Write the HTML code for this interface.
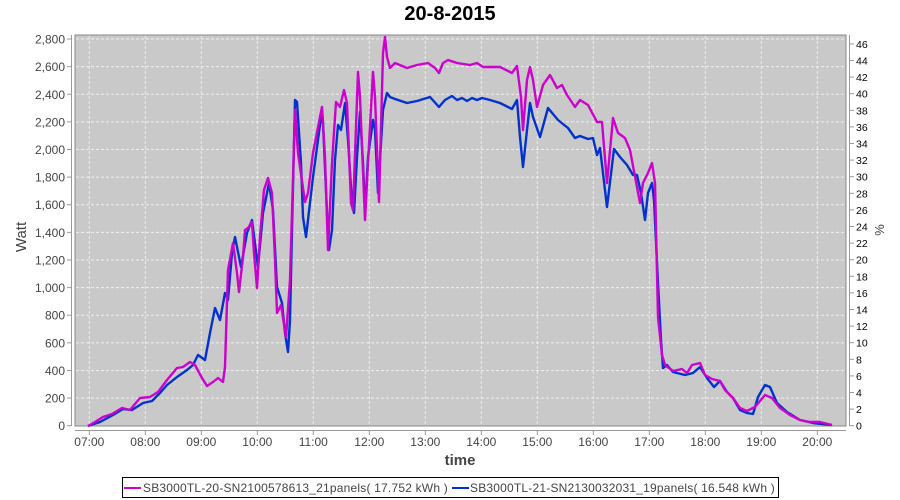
<!DOCTYPE html>
<html><head><meta charset="utf-8"><style>
html,body{margin:0;padding:0;background:#fff;}
svg{display:block;font-family:"Liberation Sans",sans-serif;}
</style></head><body>
<svg width="900" height="500" viewBox="0 0 900 500" xmlns="http://www.w3.org/2000/svg">
<rect width="900" height="500" fill="#fff"/>
<text x="450" y="20" text-anchor="middle" font-size="20" font-weight="bold" fill="#000">20-8-2015</text>
<rect x="75" y="35" width="771" height="391" fill="#c9c9c9" stroke="#888" stroke-width="1"/>
<g stroke="#eee" stroke-width="1" stroke-dasharray="3,2" id="grid"></g>
<g id="ax" font-size="12" fill="#444"></g>
<line x1="71.5" y1="35" x2="71.5" y2="426" stroke="#999"/>
<line x1="849.5" y1="35" x2="849.5" y2="426" stroke="#999"/>
<line x1="75" y1="430.5" x2="846" y2="430.5" stroke="#999"/>
<text transform="translate(26,237) rotate(-90)" text-anchor="middle" font-size="15" fill="#444">Watt</text>
<text transform="translate(884,230) rotate(-90)" text-anchor="middle" font-size="13" fill="#444">%</text>
<text x="460" y="465" text-anchor="middle" font-size="15" font-weight="bold" fill="#444">time</text>
<polyline fill="none" stroke="#0033cc" stroke-width="2.4" stroke-linejoin="round" points="88,426 100,422 113,415 123,409 132,410 143,403 152,401 160,393 167,385 177,377 187,370 193,365 198,355 205,360 210,333 215,308 220,320 225,293 228,300 232,253 235,237 241,267 247,233 252,220 258,267 263,213 269,183 273,210 277,287 282,303 285,333 288,352 290,320 292,230 295,100 297,102 301,163 303,217 306,237 308,220 313,177 318,140 322,110 323,123 327,213 329,250 332,230 335,160 338,125 341,130 345,103 348,140 352,203 354,213 357,157 360,112 363,163 365,212 368,157 373,120 375,130 378,193 383,110 387,93 390,97 395,99 407,103 417,101 430,97 439,107 445,100 452,96 457,100 462,98 467,101 472,98 477,100 482,98 490,100 500,103 512,109 517,100 520,137 523,167 527,130 530,103 533,117 540,137 548,108 558,120 568,128 575,138 580,136 588,139 593,138 597,155 600,148 607,207 614,149 620,157 627,165 633,175 637,175 641,193 645,220 648,193 652,183 654,200 658,283 661,340 663,368 667,365 673,372 685,375 693,373 700,367 707,378 714,387 720,381 727,392 733,398 740,410 747,413 753,414 758,397 765,385 770,387 777,403 787,412 800,420 813,423 832,425"/>
<polyline fill="none" stroke="#cc00cc" stroke-width="2.4" stroke-linejoin="round" points="88,426 95,422 103,417 112,414 122,408 130,410 140,398 150,397 158,392 167,380 177,368 183,367 190,362 195,365 202,378 207,386 213,382 218,378 223,382 225,367 228,270 233,243 237,273 239,292 243,257 245,230 248,228 252,222 254,253 257,288 260,237 264,190 268,178 272,193 275,260 277,313 281,305 286,337 290,280 295,110 298,153 305,202 308,193 313,153 320,117 322,107 325,157 328,250 332,163 336,102 340,107 344,90 347,103 351,203 353,210 358,72 360,97 365,220 368,163 373,72 375,97 379,202 383,53 385,37 387,57 390,68 395,63 407,68 417,65 428,63 435,68 439,73 443,63 448,60 457,63 470,65 477,63 483,67 493,67 500,67 512,73 517,66 521,97 523,130 527,80 530,67 533,80 537,107 543,85 550,75 557,88 562,85 567,95 575,107 580,100 588,105 597,122 602,122 607,183 613,118 618,133 625,138 630,150 640,203 643,183 648,173 652,163 655,183 658,317 662,355 665,365 673,371 682,369 687,373 692,365 700,363 705,375 712,379 720,381 725,390 733,398 740,408 747,411 755,407 765,395 772,398 780,408 790,415 800,420 810,422 820,422 832,425"/>
<rect x="122.5" y="477.5" width="656" height="20" fill="#fff" stroke="#000"/>
<line x1="124" y1="488" x2="141" y2="488" stroke="#cc00cc" stroke-width="2"/>
<text x="143" y="492" font-size="12" fill="#444" letter-spacing="0.2">SB3000TL-20-SN2100578613_21panels( 17.752 kWh )</text>
<line x1="452" y1="488" x2="469" y2="488" stroke="#0033cc" stroke-width="2"/>
<text x="470" y="492" font-size="12" fill="#444" letter-spacing="0.2">SB3000TL-21-SN2130032031_19panels( 16.548 kWh )</text>
<script>
var ns="http://www.w3.org/2000/svg",g=document.getElementById('grid'),ax=document.getElementById('ax');
function el(p,t,a,txt){var e=document.createElementNS(ns,t);for(var k in a)e.setAttribute(k,a[k]);if(txt)e.textContent=txt;p.appendChild(e);}
for(var v=0;v<=2800;v+=200){var y=425.7-v*0.1381;
 if(v>0)el(g,'line',{x1:76,x2:845,y1:y,y2:y});
 el(ax,'line',{x1:67,x2:71,y1:y,y2:y,stroke:'#999'});
 el(ax,'text',{x:65,y:y+4.5,'text-anchor':'end'},v>=1000?(Math.floor(v/1000)+','+String(v%1000).padStart(3,'0')):String(v));}
for(var h=7;h<=20;h++){var x=89.3+(h-7)*56;
 el(g,'line',{x1:x,x2:x,y1:36,y2:425});
 el(ax,'line',{x1:x,x2:x,y1:431,y2:435,stroke:'#999'});
 el(ax,'text',{x:x,y:446,'text-anchor':'middle'},(h<10?'0':'')+h+':00');}
for(var p=0;p<=46;p+=2){var y=425.7-p*8.3;
 el(ax,'line',{x1:850,x2:854,y1:y,y2:y,stroke:'#999'});
 el(ax,'text',{x:856,y:y+4,'font-size':'10.5',fill:'#000'},String(p));}
</script>
</svg>
</body></html>
